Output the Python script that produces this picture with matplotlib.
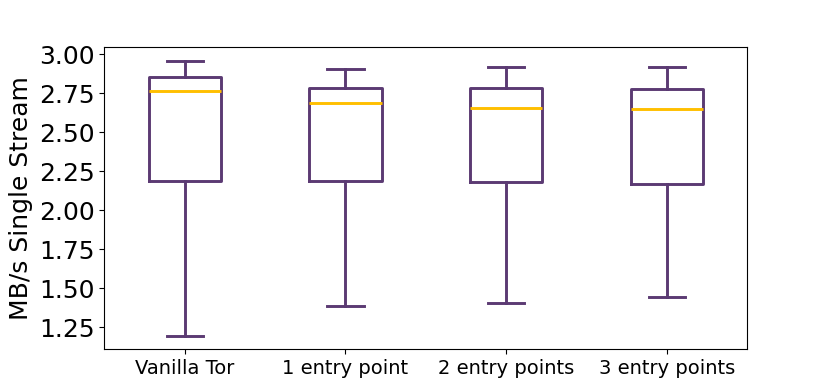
import matplotlib
matplotlib.use('Agg')
import matplotlib.pyplot as plt
from matplotlib.ticker import MultipleLocator, FormatStrFormatter

# box statistics (MB/s)
labels = ['Vanilla Tor', '1 entry point', '2 entry points', '3 entry points']
whislo = [1.197, 1.385, 1.405, 1.443]
q1 = [2.188, 2.188, 2.182, 2.167]
med = [2.764, 2.685, 2.657, 2.649]
q3 = [2.856, 2.782, 2.784, 2.775]
whishi = [2.957, 2.906, 2.920, 2.920]

purple = '#5b3a73'
gold = '#ffbf00'

stats = []
for i in range(len(labels)):
    stats.append({'label': labels[i], 'whislo': whislo[i], 'q1': q1[i],
                  'med': med[i], 'q3': q3[i], 'whishi': whishi[i], 'fliers': []})

fig, ax = plt.subplots(figsize=(8.3, 3.92), dpi=100)
fig.subplots_adjust(left=0.1257, right=0.9004, top=0.8793, bottom=0.109)

line = dict(color=purple, linewidth=2.1)
ax.bxp(stats, showfliers=False,
       boxprops=line, whiskerprops=line, capprops=line,
       medianprops=dict(color=gold, linewidth=2.1))

ax.yaxis.set_major_locator(MultipleLocator(0.25))
ax.yaxis.set_major_formatter(FormatStrFormatter('%.2f'))
ax.set_ylabel('MB/s Single Stream', fontsize=18)
ax.tick_params(axis='y', labelsize=18)
ax.tick_params(axis='x', labelsize=14)

fig.savefig('out.png')
